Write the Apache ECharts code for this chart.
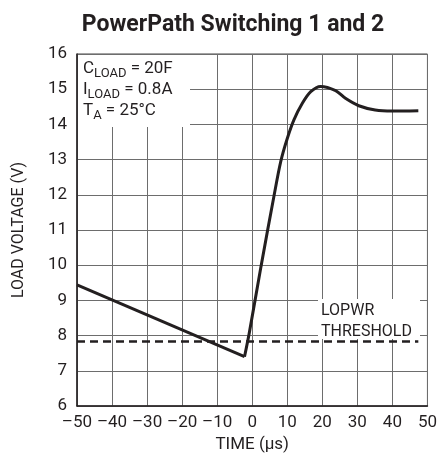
<!DOCTYPE html>
<html>
<head>
<meta charset="utf-8">
<script src="https://cdn.jsdelivr.net/npm/echarts@6/dist/echarts.min.js"></script>
<style>
  html, body { margin: 0; padding: 0; background: #fff; }
  #chart { width: 440px; height: 462px; }
</style>
</head>
<body>
<div id="chart"></div>
<script>
// decline before switchover (time µs, volts)
const beforeSwitch = [[-50, 9.44], [-2.2, 7.40]];
// rise and settle after switchover
const afterSwitch = [
  [-2.2, 7.40], [-0.85, 8.07], [2.5, 9.96], [6.25, 11.99], [8.15, 12.95],
  [10, 13.6], [11.9, 14.13], [14.3, 14.6], [16.7, 14.93], [19.5, 15.08],
  [23.8, 14.96], [26.6, 14.74], [30.4, 14.53], [35.1, 14.41], [39.9, 14.38], [47.4, 14.39]
];
// LOPWR threshold line
const thresholdLine = [[-50, 7.83], [47.4, 7.83]];

const FONT = 'Roboto, "Liberation Sans", sans-serif';
const INK = '#231f20';

let myChart = echarts.init(document.getElementById('chart'), null, { renderer: 'canvas' });

const dash = v => String(v).replace('-', '\u2013');

let option = {
  backgroundColor: '#fff',
  animation: false,
  title: {
    text: 'PowerPath Switching 1 and 2',
    left: 228,
    textAlign: 'center',
    top: 9,
    textStyle: { fontFamily: FONT, fontWeight: 'bold', fontSize: 23, color: INK }
  },
  grid: { left: 77, right: 11, top: 54, bottom: 56, show: true, borderColor: '#444', borderWidth: 1 },
  xAxis: {
    type: 'value',
    min: -50, max: 50, interval: 10,
    name: 'TIME (\u00b5s)',
    nameLocation: 'middle',
    nameGap: 30,
    nameTextStyle: { fontFamily: FONT, fontSize: 17, color: INK },
    axisLine: { show: true, onZero: false, lineStyle: { color: INK, width: 1.5 } },
    axisTick: { show: false },
    axisLabel: { fontFamily: FONT, fontSize: 17, color: INK, margin: 8, formatter: dash },
    splitLine: { show: true, lineStyle: { color: '#6d6d6d', width: 1 } }
  },
  yAxis: {
    type: 'value',
    min: 6, max: 16, interval: 1,
    name: 'LOAD VOLTAGE (V)',
    nameLocation: 'middle',
    nameGap: 50,
    nameTextStyle: { fontFamily: FONT, fontSize: 16, color: INK },
    axisLine: { show: true, onZero: false, lineStyle: { color: INK, width: 1.5 } },
    axisTick: { show: false },
    axisLabel: { fontFamily: FONT, fontSize: 17, color: INK, margin: 10 },
    splitLine: { show: true, lineStyle: { color: '#6d6d6d', width: 1 } }
  },
  series: [
    {
      type: 'line', data: thresholdLine, symbol: 'none', z: 3,
      lineStyle: { color: INK, width: 2.5, type: [8, 5] }
    },
    {
      type: 'line', data: beforeSwitch, symbol: 'none', z: 4,
      lineStyle: { color: INK, width: 3 }
    },
    {
      type: 'line', data: afterSwitch, symbol: 'none', smooth: 0.3, z: 4,
      lineStyle: { color: INK, width: 3 }
    }
  ],
  graphic: [
    {
      type: 'rect', z: 2, left: 78, top: 55,
      shape: { width: 112, height: 72 },
      style: { fill: '#fff' }
    },
    {
      type: 'text', z: 5, left: 83, top: 60,
      style: {
        text: '{m|C}{s|LOAD}{m| = 20F}\n{m|I}{s|LOAD}{m| = 0.8A}\n{m|T}{s|A}{m| = 25\u00b0C}',
        rich: {
          m: { fontFamily: FONT, fontSize: 17, fill: INK, lineHeight: 21, verticalAlign: 'bottom' },
          s: { fontFamily: FONT, fontSize: 13, fill: INK, lineHeight: 21, verticalAlign: 'bottom', padding: [0, 0, -3, 0] }
        }
      }
    },
    {
      type: 'rect', z: 2, left: 318, top: 299,
      shape: { width: 102, height: 40 },
      style: { fill: '#fff' }
    },
    {
      type: 'text', z: 5, left: 321, top: 300,
      style: {
        text: 'LOPWR\nTHRESHOLD',
        fontFamily: FONT, fontSize: 16, fill: INK, lineHeight: 21
      }
    }
  ]
};
option && myChart.setOption(option);
</script>
</body>
</html>
